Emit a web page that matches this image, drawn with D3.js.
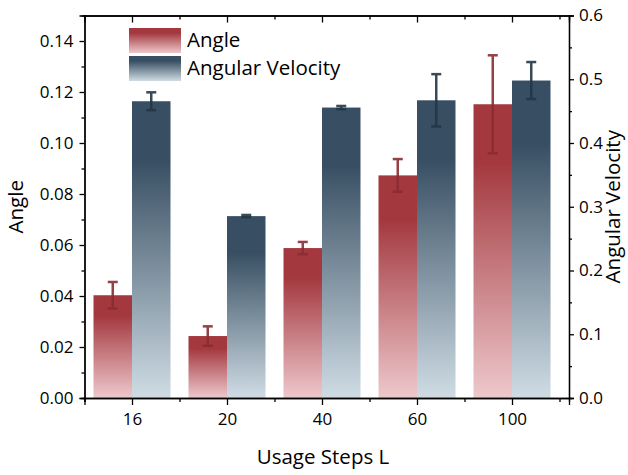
<!DOCTYPE html>
<html>
<head>
<meta charset="utf-8">
<script src="https://cdn.jsdelivr.net/npm/d3@7"></script>
<style>
  body { margin: 0; background: #fff; }
  text { font-family: "Open Sans", "Noto Sans", sans-serif; fill: #000; }
</style>
</head>
<body>
<svg width="628" height="475"></svg>
<script>
// categories and values
var steps = ['16', '20', '40', '60', '100'];
var angle = [0.0403, 0.0243, 0.0588, 0.0873, 0.1152];
var angleErr = [0.0052, 0.0038, 0.0024, 0.0064, 0.0192];
var velocity = [0.4655, 0.2853, 0.4556, 0.467, 0.498];
var velocityErr = [0.014, 0.0018, 0.0025, 0.041, 0.029];
var leftTicks = [0, 0.02, 0.04, 0.06, 0.08, 0.10, 0.12, 0.14];
var rightTicks = [0, 0.1, 0.2, 0.3, 0.4, 0.5, 0.6];

var svg = d3.select('svg');
var padding = {t: 15.5, r: 59, b: 77, l: 84.5};
var svgWidth = +svg.attr('width');
var svgHeight = +svg.attr('height');
var chartWidth = svgWidth - padding.l - padding.r;
var chartHeight = svgHeight - padding.t - padding.b;

var chartG = svg.append('g')
    .attr('transform', 'translate(' + [padding.l, padding.t] + ')');

// x uses the category index so the box extends a bit past the last group
var xScale = d3.scaleLinear().domain([-0.5, 4.6]).range([0, chartWidth]);
var yLeft = d3.scaleLinear().domain([0, 0.15]).range([chartHeight, 0]);
var yRight = d3.scaleLinear().domain([0, 0.6]).range([chartHeight, 0]);
var barW = 38.5;

// gradients, one for each series
var defs = svg.append('defs');
function gradient(id, dark, light) {
    var g = defs.append('linearGradient')
        .attr('id', id).attr('x1', 0).attr('y1', 0).attr('x2', 0).attr('y2', 1);
    g.append('stop').attr('offset', '0%').attr('stop-color', dark);
    g.append('stop').attr('offset', '20%').attr('stop-color', dark);
    g.append('stop').attr('offset', '100%').attr('stop-color', light);
}
gradient('gradRed', '#a3393f', '#eec8cc');
gradient('gradBlue', '#384f63', '#cfdce4');

var idx = d3.range(steps.length);

// bars
chartG.selectAll('.bar-angle')
    .data(idx)
    .enter().append('rect')
    .attr('class', 'bar-angle')
    .attr('x', i => xScale(i) - barW)
    .attr('y', i => yLeft(angle[i]))
    .attr('width', barW)
    .attr('height', i => chartHeight - yLeft(angle[i]))
    .attr('fill', 'url(#gradRed)');

chartG.selectAll('.bar-vel')
    .data(idx)
    .enter().append('rect')
    .attr('class', 'bar-vel')
    .attr('x', i => xScale(i))
    .attr('y', i => yRight(velocity[i]))
    .attr('width', barW)
    .attr('height', i => chartHeight - yRight(velocity[i]))
    .attr('fill', 'url(#gradBlue)');

// error bars
function errorBars(cls, vals, errs, scale, cx, color) {
    var g = chartG.selectAll('.' + cls)
        .data(idx)
        .enter().append('g')
        .attr('class', cls)
        .attr('stroke', color)
        .attr('stroke-width', 2.5)
        .attr('opacity', 0.9);
    g.append('line')
        .attr('x1', cx).attr('x2', cx)
        .attr('y1', i => scale(vals[i] + errs[i]))
        .attr('y2', i => scale(vals[i] - errs[i]));
    g.append('line')
        .attr('x1', i => cx(i) - 5).attr('x2', i => cx(i) + 5)
        .attr('y1', i => scale(vals[i] + errs[i]))
        .attr('y2', i => scale(vals[i] + errs[i]));
    g.append('line')
        .attr('x1', i => cx(i) - 5).attr('x2', i => cx(i) + 5)
        .attr('y1', i => scale(vals[i] - errs[i]))
        .attr('y2', i => scale(vals[i] - errs[i]));
}
errorBars('err-angle', angle, angleErr, yLeft, i => xScale(i) - barW / 2, '#8a2c33');
errorBars('err-vel', velocity, velocityErr, yRight, i => xScale(i) + barW / 2, '#233646');

// axes
var minorX = d3.range(steps.length + 1).map(i => i - 0.5);

chartG.append('g')
    .attr('transform', 'translate(0,' + chartHeight + ')')
    .call(d3.axisBottom(xScale).tickValues(idx).tickSize(7).tickPadding(8)
        .tickFormat(i => steps[i]));
chartG.append('g')
    .attr('transform', 'translate(0,' + chartHeight + ')')
    .call(d3.axisBottom(xScale).tickValues(minorX).tickSize(4).tickFormat(''));

chartG.append('g')
    .call(d3.axisTop(xScale).tickValues(idx).tickSize(-7).tickFormat(''));
chartG.append('g')
    .call(d3.axisTop(xScale).tickValues(minorX).tickSize(-4).tickFormat(''));

chartG.append('g')
    .call(d3.axisLeft(yLeft).tickValues(leftTicks).tickSize(5).tickPadding(6)
        .tickFormat(d3.format('.2f')));
chartG.append('g')
    .call(d3.axisLeft(yLeft).tickValues(d3.range(0.01, 0.15, 0.02)).tickSize(3).tickFormat(''));

chartG.append('g')
    .attr('transform', 'translate(' + chartWidth + ',0)')
    .call(d3.axisRight(yRight).tickValues(rightTicks).tickSize(5).tickPadding(5)
        .tickFormat(d3.format('.1f')));
chartG.append('g')
    .attr('transform', 'translate(' + chartWidth + ',0)')
    .call(d3.axisRight(yRight).tickValues(d3.range(0.05, 0.6, 0.1)).tickSize(3).tickFormat(''));

chartG.selectAll('.domain').attr('stroke', '#000').attr('stroke-width', 1.3);
chartG.selectAll('.tick line').attr('stroke', '#000').attr('stroke-width', 1.3);
chartG.selectAll('.tick text').style('font-size', '17px').attr('fill', '#000');

// axis titles
svg.append('text')
    .attr('transform', 'translate(23,' + (padding.t + chartHeight / 2) + ') rotate(-90)')
    .attr('text-anchor', 'middle')
    .style('font-size', '20.5px')
    .text('Angle');
svg.append('text')
    .attr('transform', 'translate(620,' + (padding.t + chartHeight / 2) + ') rotate(-90)')
    .attr('text-anchor', 'middle')
    .style('font-size', '20.5px')
    .text('Angular Velocity');
svg.append('text')
    .attr('x', 323).attr('y', 464)
    .attr('text-anchor', 'middle')
    .style('font-size', '20.5px')
    .text('Usage Steps L');

// legend
var legend = svg.append('g').attr('transform', 'translate(129,28)');
[['Angle', 'url(#gradRed)'], ['Angular Velocity', 'url(#gradBlue)']].forEach((d, i) => {
    legend.append('rect')
        .attr('x', 0).attr('y', i * 28)
        .attr('width', 52).attr('height', 25)
        .attr('fill', d[1]);
    legend.append('text')
        .attr('x', 58).attr('y', i * 28 + 19)
        .style('font-size', '20.5px')
        .text(d[0]);
});
</script>
</body>
</html>
